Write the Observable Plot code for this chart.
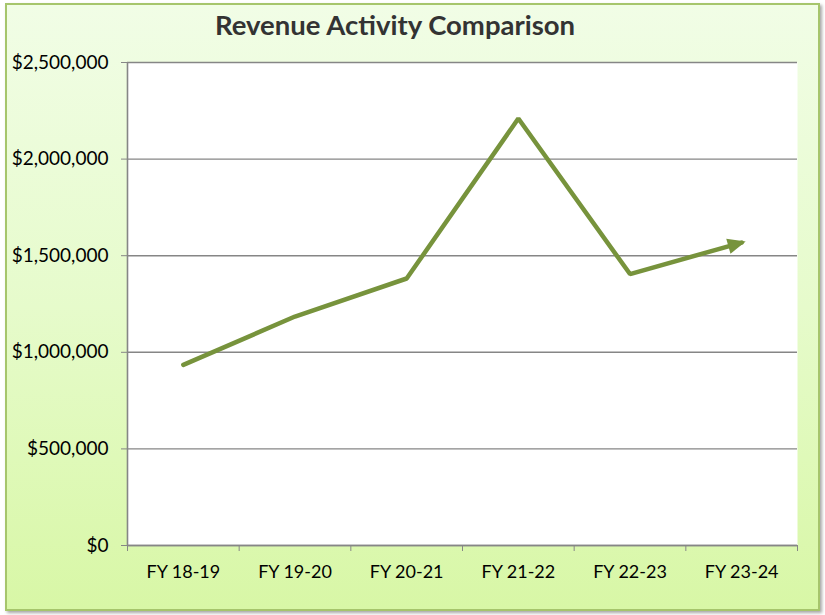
<!DOCTYPE html>
<html>
<head>
<meta charset="utf-8">
<script src="https://cdn.jsdelivr.net/npm/d3@7"></script>
<script src="https://cdn.jsdelivr.net/npm/@observablehq/plot@0.6"></script>
<style>
  html, body { margin: 0; padding: 0; background: #fff; }
  #wrap { position: relative; width: 825px; height: 615px; overflow: hidden; background: #fff; }
  #panel {
    position: absolute; left: 5px; top: 3px; width: 811px; height: 604px;
    border: 2px solid #a6c56c;
    background: linear-gradient(to bottom, #f1fde6 0%, #e6fbcb 50%, #d8f7a6 100%);
    box-shadow: 2px 2px 3px rgba(0,0,0,0.35);
  }
  #title {
    position: absolute; left: 0; top: 8px; width: 790px; text-align: center;
    font-family: Lato, "Open Sans", sans-serif; font-weight: bold; font-size: 27.5px; color: #333;
  }
  #chart { position: absolute; left: 0; top: 0; }
</style>
</head>
<body>
<div id="wrap">
  <div id="panel"></div>
  <div id="title">Revenue Activity Comparison</div>
  <div id="chart"></div>
</div>
<script>
const categories = ["FY 18-19", "FY 19-20", "FY 20-21", "FY 21-22", "FY 22-23", "FY 23-24"];
const revenue = [935000, 1185000, 1382000, 2210000, 1405000, 1568000];
const yTicks = [0, 500000, 1000000, 1500000, 2000000, 2500000];

const lineColor = "#77933c";
const gridColor = "#868686";

const data = categories.map((c, i) => ({i, c, v: revenue[i]}));
const idx = categories.map((_, i) => i);
const bounds = d3.range(categories.length + 1).map(i => i - 0.5);

const fmt = d3.format(",");

const plot = Plot.plot({
  width: 825,
  height: 615,
  marginLeft: 127,
  marginRight: 28,
  marginTop: 62,
  marginBottom: 70,
  style: {fontFamily: "Lato, 'Open Sans', sans-serif", background: "transparent", overflow: "visible"},
  x: {type: "linear", domain: [-0.5, categories.length - 0.5], label: null},
  y: {domain: [0, 2500000], label: null},
  marks: [
    Plot.frame({fill: "white", stroke: null}),
    Plot.gridY(yTicks, {stroke: gridColor, strokeOpacity: 1, strokeWidth: 1.4}),
    Plot.ruleX([bounds[0]], {stroke: gridColor, strokeWidth: 1.6}),
    Plot.ruleY([0], {stroke: gridColor, strokeWidth: 1.6}),
    Plot.axisY(yTicks, {tickFormat: d => "$" + fmt(d), tickSize: 6, tickPadding: 13, stroke: gridColor, fill: "#000", fontSize: 19}),
    Plot.axisX(bounds, {tickFormat: () => "", tickSize: 6, stroke: gridColor}),
    Plot.axisX(idx, {tickFormat: i => categories[i], tickSize: 0, tickPadding: 20, fill: "#000", fontSize: 18}),
    Plot.line(data, {x: "i", y: "v", stroke: lineColor, strokeWidth: 4.5, strokeLinecap: "round", strokeLinejoin: "miter", markerEnd: "arrow"})
  ]
});

plot.querySelectorAll("marker path").forEach(p => {
  p.setAttribute("d", "M-4.6,-2.6L1.4,0L-4.6,2.6Z");
  p.setAttribute("fill", lineColor);
  p.setAttribute("stroke", "none");
});

document.getElementById("chart").appendChild(plot);
</script>
</body>
</html>
